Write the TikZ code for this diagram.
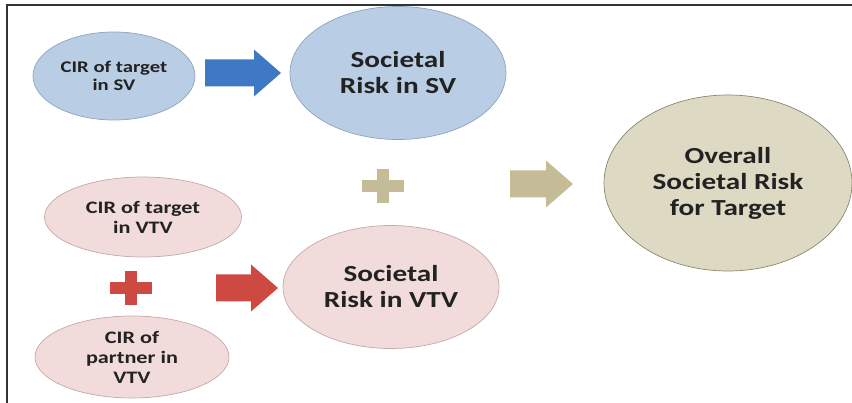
\documentclass[tikz,border=0pt]{standalone}
\usepackage{fontspec}
\usetikzlibrary{shapes.geometric}

\newfontfamily\boxfont{Carlito}[FakeStretch=1.27]

\definecolor{svfill}{HTML}{B9CDE5}
\definecolor{svline}{HTML}{8FA3BE}
\definecolor{svarrow}{HTML}{3F78C4}
\definecolor{vtvfill}{HTML}{F2DCDB}
\definecolor{vtvline}{HTML}{C4A9A8}
\definecolor{vtvarrow}{HTML}{CF4943}
\definecolor{allfill}{HTML}{DDD9C3}
\definecolor{allline}{HTML}{8C876E}
\definecolor{allarrow}{HTML}{C4BC96}
\definecolor{txt}{HTML}{222222}
\definecolor{framecol}{HTML}{333333}

% block arrow: colour, start point, length
\newcommand{\blockarrow}[3]{%
  \fill[#1] (#2) ++(0,-13.5) -- ++({#3-27},0) -- ++(0,-10) -- ++(27,23.5)
    -- ++(-27,23.5) -- ++(0,-10) -- ++({27-#3},0) -- cycle;}
% plus sign: colour, centre
\newcommand{\plussign}[2]{%
  \fill[#1] (#2) ++(-21,-6) rectangle ++(42,12);
  \fill[#1] (#2) ++(-6,-17) rectangle ++(12,34);}

\begin{document}
\begin{tikzpicture}[x=1pt,y=-1pt,
  bubble/.style={ellipse, line width=0.7pt, inner sep=0pt, align=center, text=txt},
  svbubble/.style={bubble, fill=svfill, draw=svline},
  vtvbubble/.style={bubble, fill=vtvfill, draw=vtvline},
  allbubble/.style={bubble, fill=allfill, draw=allline},
  smalltext/.style={font=\boxfont\bfseries\fontsize{16.3}{18}\selectfont},
  midtext/.style={font=\boxfont\bfseries\fontsize{17.5}{20}\selectfont},
  bigtext/.style={font=\boxfont\bfseries\fontsize{23}{26}\selectfont}]
  \useasboundingbox (0,0) rectangle (852,403);
  \draw[framecol, line width=1.6pt] (7,403) -- (7,5) -- (852,5);

  % SV branch
  \node[svbubble, smalltext, minimum width=162, minimum height=88] (cirsv) at (114,76) {CIR of target\\in SV};
  \node[svbubble, bigtext, minimum width=216, minimum height=133] (srsv) at (398,73) {Societal\\Risk in SV};
  \blockarrow{svarrow}{205,73}{76}

  % VTV branch
  \node[vtvbubble, midtext, minimum width=197, minimum height=80] (cirvtv) at (143,217) {CIR of target\\in VTV};
  \node[vtvbubble, midtext, minimum width=194, minimum height=82] (cirpart) at (132,357) {CIR of\\partner in\\VTV};
  \node[vtvbubble, bigtext, minimum width=216, minimum height=123] (srvtv) at (391,287) {Societal\\Risk in VTV};
  \plussign{vtvarrow}{131,288}
  \blockarrow{vtvarrow}{216,288}{62}

  % overall
  \node[allbubble, bigtext, minimum width=248, minimum height=176] (overall) at (728,183) {Overall\\Societal Risk\\for Target};
  \plussign{allarrow}{383,186}
  \blockarrow{allarrow}{510,184}{63}
\end{tikzpicture}
\end{document}
